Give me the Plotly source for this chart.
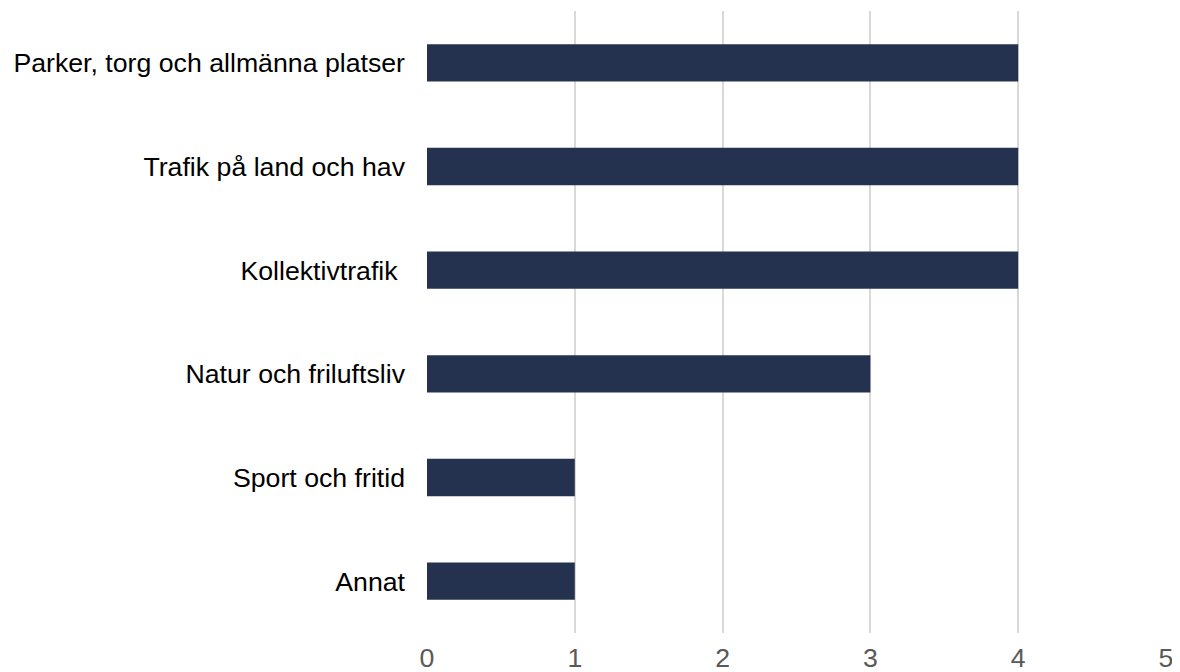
import plotly.graph_objects as go

categories = ["Parker, torg och allmänna platser", "Trafik på land och hav", "Kollektivtrafik ",
              "Natur och friluftsliv", "Sport och fritid", "Annat"]
values = [4, 4, 4, 3, 1, 1]
x_ticks = [0, 1, 2, 3, 4, 5]

fig = go.Figure(go.Bar(
    x=values, y=categories, orientation="h",
    marker=dict(color="#25324f", line=dict(width=0)),
    hoverinfo="x+y",
))

# page body has an 8px margin, so the figure is offset by 8px on screen
fig.update_layout(
    width=1180, height=672,
    margin=dict(l=418.5, r=21.5, t=3, b=47),
    paper_bgcolor="white", plot_bgcolor="white",
    bargap=0.64,
    showlegend=False,
    font=dict(family="Liberation Sans, Arial, sans-serif"),
)
fig.update_xaxes(
    range=[0, 5], tickvals=x_ticks, ticktext=[str(t) for t in x_ticks],
    showgrid=True, gridcolor="#d9d9d9", gridwidth=2,
    zeroline=False, showline=False, ticks="", automargin=False,
    tickfont=dict(size=26.7, color="#595959"),
    ticklabelstandoff=6,
)
fig.update_yaxes(
    autorange="reversed", showgrid=False, zeroline=False, showline=False, ticks="",
    automargin=False,
    tickfont=dict(size=26.7, color="#000000"),
    ticklabelstandoff=21,
)

fig.write_html("out.html")
